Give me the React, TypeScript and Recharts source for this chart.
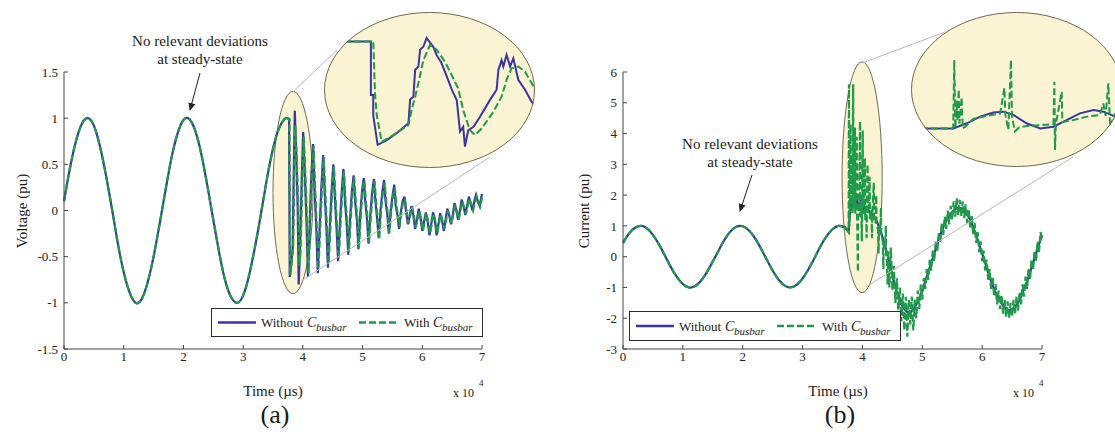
import React from "react";
import { LineChart, Line, XAxis, YAxis, ReferenceArea } from "recharts";

const FONT = "Liberation Serif, Times New Roman, Times, DejaVu Serif, serif";
const BLUE = "#3b34a2";
const GREEN = "#1e9a48";
const LENS_FILL = "#fbf4d2";
const LENS_EDGE = "#6f6a58";
const AXIS = "#444";

const timeTicks = [0, 10000, 20000, 30000, 40000, 50000, 60000, 70000];
const voltTicks = [-1.5, -1, -0.5, 0, 0.5, 1, 1.5];
const currTicks = [-3, -2, -1, 0, 1, 2, 3, 4, 5, 6];

// steady-state part, one sample per 1000 µs (0 .. 37000)
const steadyTime = [
  0, 1000, 2000, 3000, 4000, 5000, 6000, 7000, 8000, 9000, 10000, 11000, 12000,
  13000, 14000, 15000, 16000, 17000, 18000, 19000, 20000, 21000, 22000, 23000,
  24000, 25000, 26000, 27000, 28000, 29000, 30000, 31000, 32000, 33000, 34000,
  35000, 36000, 37000,
];
const voltSteady = [
  0.1, 0.46, 0.75, 0.94, 1.0, 0.92, 0.7, 0.39, 0.03, -0.35, -0.67, -0.89, -1.0,
  -0.96, -0.78, -0.5, -0.15, 0.22, 0.57, 0.83, 0.98, 0.99, 0.86, 0.61, 0.27,
  -0.1, -0.46, -0.76, -0.94, -1.0, -0.92, -0.7, -0.39, -0.03, 0.35, 0.67, 0.89, 1.0,
];
const currSteady = [
  0.45, 0.75, 0.94, 1.0, 0.92, 0.71, 0.4, 0.04, -0.34, -0.66, -0.89, -1.0, -0.96,
  -0.79, -0.51, -0.16, 0.21, 0.56, 0.83, 0.98, 0.99, 0.86, 0.62, 0.28, -0.09,
  -0.45, -0.75, -0.94, -1.0, -0.92, -0.71, -0.4, -0.04, 0.34, 0.66, 0.89, 1.0, 0.96,
];

// voltage after the fault [time µs, pu]
const voltWithout: [number, number][] = [
  [37000, 1.0], [37400, 1.0], [37700, 0.99], [37750, 0.05], [37800, -0.72], [38000, -0.6],
  [38300, -0.4], [38400, 0.1], [38500, 0.5], [38650, 1.08], [38900, 0.6], [39150, 0.0],
  [39300, -0.8], [39500, -0.45], [39800, 0.3], [40050, 0.85], [40300, 0.45], [40600, -0.1],
  [40850, -0.72], [41100, -0.25], [41400, 0.35], [41700, 0.72], [41950, 0.25], [42250, -0.2],
  [42500, -0.68], [42800, -0.2], [43100, 0.25], [43400, 0.6], [43650, 0.2], [43950, -0.2],
  [44200, -0.62], [44500, -0.2], [44800, 0.2], [45100, 0.5], [45350, 0.15], [45650, -0.2],
  [45900, -0.55], [46200, -0.15], [46500, 0.2], [46800, 0.45], [47050, 0.1], [47350, -0.15],
  [47600, -0.48], [47900, -0.1], [48200, 0.2], [48500, 0.38], [48750, 0.1], [49050, -0.1],
  [49300, -0.42], [49600, -0.05], [49900, 0.2], [50200, 0.35], [50450, 0.1], [50750, -0.1],
  [51000, -0.36], [51300, -0.05], [51600, 0.2], [51900, 0.34], [52150, 0.1], [52450, -0.1],
  [52700, -0.3], [53000, 0.0], [53300, 0.2], [53600, 0.33], [53850, 0.1], [54150, -0.05],
  [54400, -0.25], [54700, 0.0], [55000, 0.15], [55300, 0.28], [55550, 0.05], [55850, -0.05],
  [56100, -0.2], [56400, -0.02], [56700, 0.1], [57000, 0.15], [57300, -0.02], [57600, -0.15],
  [57900, -0.05], [58200, 0.05], [58500, -0.05], [58800, -0.2], [59100, -0.1], [59400, 0.02],
  [59700, -0.08], [60000, -0.22], [60300, -0.12], [60600, -0.02], [60900, -0.12], [61200, -0.27],
  [61500, -0.15], [61800, -0.02], [62100, -0.1], [62400, -0.27], [62700, -0.15], [63000, -0.03],
  [63300, -0.1], [63600, -0.22], [63900, -0.1], [64200, 0.02], [64500, -0.05], [64800, -0.15],
  [65100, -0.05], [65400, 0.08], [65700, 0.0], [66000, -0.1], [66300, 0.0], [66600, 0.12],
  [66900, 0.05], [67200, -0.05], [67500, 0.05], [67800, 0.15], [68100, 0.08], [68400, 0.0],
  [68700, 0.1], [69000, 0.17], [69300, 0.1], [69600, 0.05], [69900, 0.15], [70000, 0.18],
];
const voltWith: [number, number][] = [
  [37000, 1.0], [37400, 1.0], [37750, 0.99], [37800, 0.1], [37880, -0.7], [38100, -0.58],
  [38350, -0.42], [38450, -0.1], [38600, 0.55], [38720, 0.92], [38950, 0.6], [39200, 0.1],
  [39400, -0.6], [39600, -0.45], [39900, 0.3], [40150, 0.8], [40400, 0.4], [40700, -0.1],
  [40950, -0.68], [41200, -0.2], [41500, 0.35], [41800, 0.7], [42050, 0.25], [42350, -0.2],
  [42600, -0.64], [42900, -0.2], [43200, 0.25], [43500, 0.58], [43750, 0.2], [44050, -0.2],
  [44300, -0.58], [44600, -0.2], [44900, 0.2], [45200, 0.48], [45450, 0.15], [45750, -0.2],
  [46000, -0.52], [46300, -0.15], [46600, 0.2], [46900, 0.42], [47150, 0.1], [47450, -0.15],
  [47700, -0.45], [48000, -0.1], [48300, 0.2], [48600, 0.36], [48850, 0.1], [49150, -0.1],
  [49400, -0.4], [49700, -0.05], [50000, 0.2], [50300, 0.33], [50550, 0.1], [50850, -0.1],
  [51100, -0.34], [51400, -0.05], [51700, 0.2], [52000, 0.32], [52250, 0.1], [52550, -0.1],
  [52800, -0.3], [53100, 0.0], [53400, 0.2], [53700, 0.3], [53950, 0.1], [54250, -0.05],
  [54500, -0.24], [54800, 0.0], [55100, 0.15], [55400, 0.25], [55650, 0.05], [55950, -0.05],
  [56200, -0.18], [56500, -0.02], [56800, 0.1], [57100, 0.12], [57400, -0.02], [57700, -0.14],
  [58000, -0.05], [58300, 0.04], [58600, -0.06], [58900, -0.18], [59200, -0.1], [59500, 0.0],
  [59800, -0.1], [60100, -0.22], [60400, -0.12], [60700, -0.03], [61000, -0.13], [61300, -0.25],
  [61600, -0.14], [61900, -0.03], [62200, -0.12], [62500, -0.25], [62800, -0.14], [63100, -0.04],
  [63400, -0.12], [63700, -0.2], [64000, -0.1], [64300, 0.0], [64600, -0.06], [64900, -0.14],
  [65200, -0.04], [65500, 0.06], [65800, -0.02], [66100, -0.1], [66400, 0.0], [66700, 0.1],
  [67000, 0.03], [67300, -0.04], [67600, 0.05], [67900, 0.13], [68200, 0.06], [68500, 0.0],
  [68800, 0.08], [69100, 0.15], [69400, 0.08], [69700, 0.04], [70000, 0.14],
];

// current after the fault [time µs, pu]
const currWithout: [number, number][] = [
  [37000, 0.96], [37400, 0.88], [37700, 0.8], [37900, 1.4], [38100, 1.9], [38300, 1.5],
  [38500, 2.0], [38800, 1.6], [39100, 1.9], [39400, 1.5], [39700, 1.8], [40000, 1.9],
  [40300, 1.5], [40600, 1.6], [41000, 1.5], [41500, 1.4], [42000, 1.3], [42500, 1.1],
  [43000, 0.85], [43500, 0.55], [44000, 0.2], [44500, -0.2], [45000, -0.6], [45500, -1.0],
  [46000, -1.3], [46500, -1.55], [47000, -1.7], [47500, -1.8], [48000, -1.8], [48500, -1.72],
  [49000, -1.55], [49500, -1.35], [50000, -1.1], [50500, -0.8], [51000, -0.5], [51500, -0.2],
  [52000, 0.1], [52500, 0.4], [53000, 0.7], [53500, 0.95], [54000, 1.15], [54500, 1.32],
  [55000, 1.45], [55500, 1.55], [56000, 1.6], [56500, 1.57], [57000, 1.5], [57500, 1.37],
  [58000, 1.2], [58500, 0.97], [59000, 0.7], [59500, 0.4], [60000, 0.1], [60500, -0.2],
  [61000, -0.5], [61500, -0.8], [62000, -1.05], [62500, -1.28], [63000, -1.45], [63500, -1.6],
  [64000, -1.7], [64500, -1.75], [65000, -1.72], [65500, -1.62], [66000, -1.5], [66500, -1.3],
  [67000, -1.05], [67500, -0.8], [68000, -0.5], [68500, -0.2], [69000, 0.1], [69500, 0.4],
  [70000, 0.7],
];
const currWith: [number, number][] = [
  [37000, 0.96], [37400, 0.88], [37700, 0.8], [37750, 5.6], [37800, 1.0], [37950, 1.8],
  [38000, 4.3], [38050, 1.5], [38200, 2.0], [38300, 3.3], [38350, 1.4], [38450, 5.6],
  [38500, 1.6], [38650, 1.9], [38750, 4.2], [38800, 1.4], [38950, 1.8], [39050, 3.9],
  [39100, 1.5], [39250, -0.5], [39300, 1.6], [39450, 1.9], [39600, 4.4], [39650, 1.3],
  [39800, 1.8], [39900, 0.5], [39950, 1.7], [40050, 4.1], [40100, 1.4], [40300, 1.8],
  [40400, 3.2], [40450, 1.2], [40600, 1.6], [40700, 0.6], [40750, 1.5], [40850, 3.0],
  [40900, 1.4], [41100, 1.7], [41200, 2.6], [41250, 1.2], [41500, 1.5], [41600, 0.6],
  [41650, 1.4], [41900, 2.4], [41950, 1.2], [42200, 1.1], [42300, 2.0], [42350, 1.0],
  [42600, 0.9], [42700, 0.1], [42750, 1.0], [43000, 0.9], [43100, 1.6], [43150, 0.7],
  [43400, 0.5], [43500, -0.4], [43550, 0.5], [43800, 0.3], [43900, 1.0], [43950, 0.1],
  [44100, -0.2], [44200, -0.9], [44300, 0.2], [44500, -1.0], [44750, 0.3],
  [45000, -1.1], [45250, -0.3], [45500, -1.5], [45750, -0.7], [46000, -1.9], [46250, -1.0],
  [46500, -2.1], [46750, -1.2], [47000, -2.4], [47250, -1.3], [47500, -2.6], [47750, -1.4],
  [48000, -2.2], [48250, -1.3], [48500, -2.4], [48750, -1.4], [49000, -2.0], [49250, -1.1],
  [49500, -1.7], [49750, -0.9], [50000, -1.4], [50250, -0.7], [50500, -1.05], [50750, -0.4],
  [51000, -0.75], [51250, -0.1], [51500, -0.45], [51750, 0.2], [52000, -0.15], [52250, 0.5],
  [52500, 0.15], [52750, 0.8], [53000, 0.45], [53250, 1.1], [53500, 0.7], [53750, 1.3],
  [54000, 0.9], [54250, 1.5], [54500, 1.05], [54750, 1.65], [55000, 1.2], [55250, 1.8],
  [55500, 1.3], [55750, 1.9], [56000, 1.35], [56250, 1.85], [56500, 1.3], [56750, 1.8],
  [57000, 1.25], [57250, 1.7], [57500, 1.1], [57750, 1.55], [58000, 0.95], [58250, 1.35],
  [58500, 0.7], [58750, 1.1], [59000, 0.45], [59250, 0.8], [59500, 0.15], [59750, 0.5],
  [60000, -0.15], [60250, 0.2], [60500, -0.45], [60750, -0.1], [61000, -0.75], [61250, -0.4],
  [61500, -1.05], [61750, -0.65], [62000, -1.3], [62250, -0.9], [62500, -1.55], [62750, -1.1],
  [63000, -1.7], [63250, -1.25], [63500, -1.85], [63750, -1.4], [64000, -1.95], [64250, -1.45],
  [64500, -2.0], [64750, -1.5], [65000, -1.95], [65250, -1.4], [65500, -1.85], [65750, -1.3],
  [66000, -1.75], [66250, -1.15], [66500, -1.55], [66750, -0.9], [67000, -1.3], [67250, -0.65],
  [67500, -1.05], [67750, -0.4], [68000, -0.75], [68250, -0.1], [68500, -0.45], [68750, 0.2],
  [69000, -0.15], [69250, 0.5], [69500, 0.15], [69750, 0.8], [70000, 0.55],
];

// magnified views inside the big ellipses [time µs, pu]
const voltZoomWithout: [number, number][] = [
  [36900, 1.0], [37700, 1.0], [37700, 0.08], [37740, 0.08], [37740, -0.27], [37815, -0.78],
  [37970, -0.7], [38140, -0.58], [38340, -0.41], [38370, 0.0], [38425, 0.05], [38455, 0.51],
  [38510, 0.57], [38540, 0.86], [38595, 0.91], [38650, 1.06], [38765, 0.91], [38820, 0.77],
  [38905, 0.63], [38995, 0.4], [39080, 0.17], [39165, -0.01], [39220, -0.55], [39275, -0.47],
  [39305, -0.81], [39360, -0.53], [39450, -0.47], [39560, -0.3], [39730, -0.01], [39845, 0.17],
  [39875, 0.51], [39930, 0.68], [39960, 0.57], [40015, 0.77], [40075, 0.57], [40130, 0.71],
  [40215, 0.34], [40330, 0.17], [40445, -0.04], [40500, -0.12],
];
const voltZoomWith: [number, number][] = [
  [36900, 1.0], [37740, 1.0], [37770, 0.11], [37800, -0.27], [37885, -0.73], [38085, -0.61],
  [38340, -0.44], [38395, -0.18], [38455, 0.05], [38510, 0.28], [38595, 0.68], [38710, 0.94],
  [38820, 0.86], [38965, 0.65], [39080, 0.42], [39190, 0.19], [39275, -0.18], [39390, -0.53],
  [39475, -0.61], [39590, -0.5], [39790, -0.21], [39930, 0.05], [40015, 0.34], [40100, 0.54],
  [40215, 0.57], [40330, 0.48], [40445, 0.28], [40500, 0.18],
];
const currZoomWithout: [number, number][] = [
  [37000, 0.49], [37800, 0.49], [38060, 0.82], [38310, 1.25], [38560, 1.51], [38750, 1.57],
  [38940, 1.36], [39190, 0.82], [39450, 0.49], [39700, 0.6], [39950, 1.03], [40200, 1.46],
  [40460, 1.68], [40650, 1.57], [40870, 1.25], [41000, 1.1],
];
const currZoomWith: [number, number][] = [
  [37000, 0.49], [37800, 0.49], [37820, 4.9], [37840, 0.49], [37865, 2.3], [37880, 1.0],
  [37905, 3.0], [37918, 0.8], [37960, 2.5], [37980, 0.5], [38030, 0.6], [38180, 1.1],
  [38430, 1.3], [38690, 1.45], [38770, 3.1], [38790, 1.35], [38845, 0.4], [38895, 4.9],
  [38915, 1.25], [38970, 0.3], [39050, 0.55], [39190, 0.65], [39450, 0.7], [39700, 0.77],
  [39718, 3.5], [39730, -0.9], [39745, 0.75], [39857, 2.85], [39870, 0.9], [40080, 1.03],
  [40330, 1.25], [40580, 1.35], [40645, 2.1], [40690, 1.3], [40740, 3.4], [40775, 0.6],
  [40860, 1.4], [41000, 1.3],
];

type Pt = { t: number; v: number };
const fromPairs = (pairs: [number, number][]): Pt[] => pairs.map(([t, v]) => ({ t, v }));
const fromSteady = (vals: number[]): Pt[] => steadyTime.map((t, i) => ({ t, v: vals[i] }));

const tickFont = { fill: "#222", fontSize: 13, fontFamily: FONT };

type Lens = { x1: number; x2: number; y1: number; y2: number };

const lensShape = (p: any) => {
  const w = Math.abs(p.width);
  const h = Math.abs(p.height);
  const x = p.width < 0 ? p.x + p.width : p.x;
  const y = p.height < 0 ? p.y + p.height : p.y;
  return (
    <ellipse cx={x + w / 2} cy={y + h / 2} rx={w / 2} ry={h / 2} fill={LENS_FILL} stroke={LENS_EDGE} strokeWidth={1} />
  );
};

function Panel(props: {
  left: number;
  marginLeft: number;
  yTicks: number[];
  yDomain: [number, number];
  steady: number[];
  without: [number, number][];
  withBus: [number, number][];
  lens: Lens;
}) {
  const steadyPts = fromSteady(props.steady);
  return (
    <div style={{ position: "absolute", left: props.left, top: 0 }}>
      <LineChart width={560} height={432} margin={{ top: 72, right: 78, bottom: 43, left: props.marginLeft }}>
        <XAxis
          type="number"
          dataKey="t"
          domain={[0, 70000]}
          ticks={timeTicks}
          interval={0}
          height={40}
          stroke={AXIS}
          tickSize={-4}
          tickMargin={7}
          tick={tickFont}
          tickFormatter={(v: number) => String(v / 10000)}
        />
        <YAxis
          type="number"
          domain={props.yDomain}
          ticks={props.yTicks}
          interval={0}
          width={50}
          stroke={AXIS}
          tickSize={-4}
          tickMargin={10}
          tick={tickFont}
        />
        <ReferenceArea
          x1={props.lens.x1}
          x2={props.lens.x2}
          y1={props.lens.y1}
          y2={props.lens.y2}
          ifOverflow="visible"
          shape={lensShape}
        />
        <Line data={steadyPts} dataKey="v" type="natural" stroke={BLUE} strokeWidth={2.2} dot={false} isAnimationActive={false} />
        <Line data={fromPairs(props.without)} dataKey="v" type="linear" stroke={BLUE} strokeWidth={2.2} dot={false} isAnimationActive={false} />
        <Line data={steadyPts} dataKey="v" type="natural" stroke={GREEN} strokeWidth={2.2} strokeDasharray="7 3" dot={false} isAnimationActive={false} />
        <Line data={fromPairs(props.withBus)} dataKey="v" type="linear" stroke={GREEN} strokeWidth={2.2} strokeDasharray="7 3" dot={false} isAnimationActive={false} />
      </LineChart>
    </div>
  );
}

function Magnifier(props: {
  left: number;
  top: number;
  width: number;
  height: number;
  xDomain: [number, number];
  yDomain: [number, number];
  without: [number, number][];
  withBus: [number, number][];
}) {
  const { left, top, width, height } = props;
  return (
    <>
      <div
        style={{
          position: "absolute",
          left,
          top,
          width,
          height,
          background: LENS_FILL,
          clipPath: "ellipse(50% 50% at 50% 50%)",
        }}
      >
        <LineChart width={width} height={height} margin={{ top: 0, right: 0, bottom: 0, left: 0 }}>
          <XAxis hide type="number" dataKey="t" domain={props.xDomain} allowDataOverflow />
          <YAxis hide type="number" domain={props.yDomain} allowDataOverflow />
          <Line data={fromPairs(props.without)} dataKey="v" type="linear" stroke={BLUE} strokeWidth={2} dot={false} isAnimationActive={false} />
          <Line data={fromPairs(props.withBus)} dataKey="v" type="linear" stroke={GREEN} strokeWidth={2} strokeDasharray="7 3" dot={false} isAnimationActive={false} />
        </LineChart>
      </div>
      <svg style={{ position: "absolute", left, top, overflow: "visible" }} width={width} height={height}>
        <ellipse cx={width / 2} cy={height / 2} rx={width / 2 - 0.5} ry={height / 2 - 0.5} fill="none" stroke={LENS_EDGE} strokeWidth={1} />
      </svg>
    </>
  );
}

function LegendBox({ left, top, height }: { left: number; top: number; height: number }) {
  const mid = height / 2 - 1;
  return (
    <div
      style={{
        position: "absolute",
        left,
        top,
        width: 272,
        height,
        border: "1.5px solid #2a2a2a",
        background: "#fff",
        boxSizing: "border-box",
      }}
    >
      <svg width={270} height={height - 3} style={{ display: "block" }} fontFamily={FONT}>
        <line x1={6} x2={44} y1={mid} y2={mid} stroke={BLUE} strokeWidth={2.4} />
        <text x={49} y={mid + 4.5} fontSize={13} fill="#222">Without</text>
        <text x={95} y={mid + 4.5} fontSize={14} fontStyle="italic" fill="#222">C</text>
        <text x={104} y={mid + 8.5} fontSize={11} fontStyle="italic" fill="#222">busbar</text>
        <line x1={147} x2={186} y1={mid} y2={mid} stroke={GREEN} strokeWidth={2.4} strokeDasharray="7 3" />
        <text x={192} y={mid + 4.5} fontSize={13} fill="#222">With</text>
        <text x={221} y={mid + 4.5} fontSize={14} fontStyle="italic" fill="#222">C</text>
        <text x={230} y={mid + 8.5} fontSize={11} fontStyle="italic" fill="#222">busbar</text>
      </svg>
    </div>
  );
}

function Notes() {
  const t = { fontFamily: FONT, fill: "#1a1a1a" };
  return (
    <svg width={1115} height={432} style={{ position: "absolute", left: 0, top: 0 }}>
      <defs>
        <marker id="head" markerWidth={8} markerHeight={7} refX={7} refY={3.5} orient="auto" markerUnits="userSpaceOnUse">
          <path d="M0,0 L8,3.5 L0,7 z" fill="#222" />
        </marker>
      </defs>
      {/* connectors between the small and the big ellipses */}
      <line x1={293} y1={92} x2={337} y2={50} stroke="#b8b8b8" strokeWidth={1} />
      <line x1={303} y1={280} x2={490} y2={157} stroke="#b8b8b8" strokeWidth={1} />
      <line x1={862} y1={63} x2={945} y2={32} stroke="#b8b8b8" strokeWidth={1} />
      <line x1={866} y1={287} x2={1073} y2={157} stroke="#b8b8b8" strokeWidth={1} />

      <text {...t} x={200} y={45.5} fontSize={15} textAnchor="middle">No relevant deviations</text>
      <text {...t} x={200} y={64} fontSize={15} textAnchor="middle">at steady-state</text>
      <line x1={200} y1={73} x2={190} y2={110} stroke="#222" strokeWidth={1} markerEnd="url(#head)" />

      <text {...t} x={750} y={149} fontSize={15} textAnchor="middle">No relevant deviations</text>
      <text {...t} x={750} y={167} fontSize={15} textAnchor="middle">at steady-state</text>
      <line x1={752} y1={175} x2={740} y2={211} stroke="#222" strokeWidth={1} markerEnd="url(#head)" />

      <text {...t} fontSize={15} textAnchor="middle" transform="translate(27,211) rotate(-90)">Voltage (pu)</text>
      <text {...t} fontSize={15} textAnchor="middle" transform="translate(589,211) rotate(-90)">Current (pu)</text>

      <text {...t} x={273} y={396} fontSize={15} textAnchor="middle">Time (µs)</text>
      <text {...t} x={838} y={396} fontSize={15} textAnchor="middle">Time (µs)</text>

      <text {...t} x={453} y={397} fontSize={12}>x 10</text>
      <text {...t} x={479} y={386} fontSize={9}>4</text>
      <text {...t} x={1013} y={397} fontSize={12}>x 10</text>
      <text {...t} x={1039} y={386} fontSize={9}>4</text>

      <text {...t} x={275} y={423} fontSize={26} textAnchor="middle">(a)</text>
      <text {...t} x={840} y={423} fontSize={26} textAnchor="middle">(b)</text>
    </svg>
  );
}

export default function App() {
  return (
    <div
      style={{
        position: "absolute",
        left: 0,
        top: 0,
        width: 1115,
        height: 432,
        overflow: "hidden",
        background: "#fff",
        fontFamily: FONT,
      }}
    >
      <Panel
        left={0}
        marginLeft={14}
        yTicks={voltTicks}
        yDomain={[-1.5, 1.5]}
        steady={voltSteady}
        without={voltWithout}
        withBus={voltWith}
        lens={{ x1: 35000, x2: 41700, y1: -0.9, y2: 1.29 }}
      />
      <Panel
        left={560}
        marginLeft={13}
        yTicks={currTicks}
        yDomain={[-3, 6]}
        steady={currSteady}
        without={currWithout}
        withBus={currWith}
        lens={{ x1: 36600, x2: 43300, y1: -1.17, y2: 6.33 }}
      />
      <Notes />
      <Magnifier
        left={324}
        top={12}
        width={211}
        height={156}
        xDomain={[36900, 40500]}
        yDomain={[-1.18, 1.51]}
        without={voltZoomWithout}
        withBus={voltZoomWith}
      />
      <Magnifier
        left={911}
        top={12}
        width={211}
        height={155}
        xDomain={[37000, 41000]}
        yDomain={[-2, 8]}
        without={currZoomWithout}
        withBus={currZoomWith}
      />
      <LegendBox left={211} top={308} height={29} />
      <LegendBox left={629} top={311} height={30} />
    </div>
  );
}
